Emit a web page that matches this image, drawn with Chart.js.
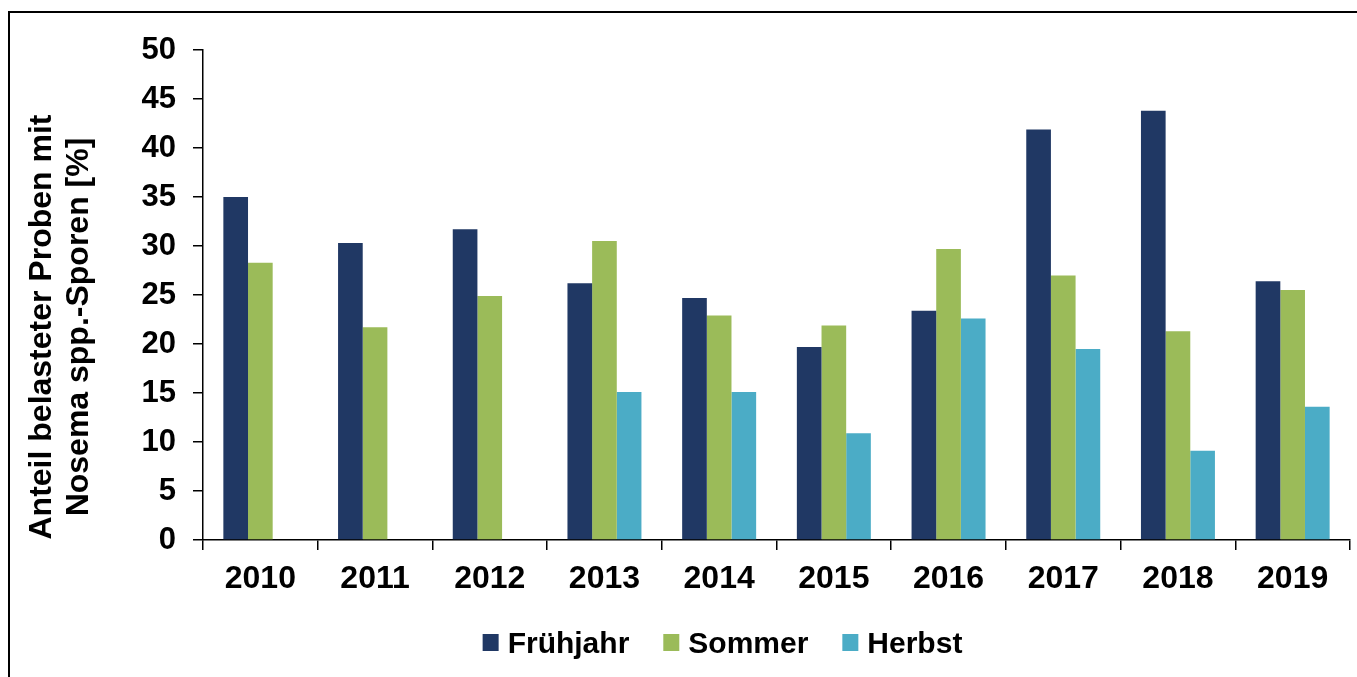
<!DOCTYPE html>
<html>
<head>
<meta charset="utf-8">
<script src="https://cdn.jsdelivr.net/npm/chart.js@4"></script>
<style>
    html, body { margin: 0; padding: 0; background: #fff; }
    .frame {
        position: absolute; left: 8px; top: 11px;
        width: 1400px; height: 700px;
        border-top: 2px solid #000; border-left: 2px solid #000;
    }
    .wrap { position: absolute; left: 0; top: 0; width: 1357px; height: 677px; }
</style>
</head>
<body>
<div class="frame"></div>
<div class="wrap"><canvas id="chartNosema" width="1357" height="677"></canvas></div>
<script>
const years = ['2010', '2011', '2012', '2013', '2014', '2015', '2016', '2017', '2018', '2019'];
const fruehjahr = [35.0, 30.3, 31.7, 26.2, 24.7, 19.7, 23.4, 41.9, 43.8, 26.4];
const sommer = [28.3, 21.7, 24.9, 30.5, 22.9, 21.9, 29.7, 27.0, 21.3, 25.5];
const herbst = [null, null, null, 15.1, 15.1, 10.9, 22.6, 19.5, 9.1, 13.6];
const yTicks = [0, 5, 10, 15, 20, 25, 30, 35, 40, 45, 50];
const titleLines = ['Anteil belasteter Proben mit', 'Nosema spp.-Sporen [%]'];

const fontFamily = '"Liberation Sans", Arial, sans-serif';

// Achsentitel (zweizeilig, gedreht)
const axisTitle = {
    id: 'axisTitle',
    afterDraw(chart) {
        const ctx = chart.ctx;
        ctx.save();
        ctx.translate(0, 327);
        ctx.rotate(-Math.PI / 2);
        ctx.font = 'bold 32px ' + fontFamily;
        ctx.fillStyle = '#000';
        ctx.textAlign = 'center';
        ctx.textBaseline = 'alphabetic';
        ctx.fillText(titleLines[0], 0, 51);
        ctx.fillText(titleLines[1], 0, 88);
        ctx.restore();
    }
};

// Legende unten, wie im Original etwas links der Mitte
const seasonLegend = {
    id: 'seasonLegend',
    afterDraw(chart) {
        const ctx = chart.ctx;
        const sets = chart.data.datasets;
        ctx.save();
        ctx.font = 'bold 30px ' + fontFamily;
        ctx.textBaseline = 'alphabetic';
        ctx.textAlign = 'left';
        const box = 16, gap = 9, spacing = 34;
        const widths = sets.map(ds => ctx.measureText(ds.label).width);
        const total = widths.reduce((a, w) => a + box + gap + w, 0) + spacing * (sets.length - 1);
        let x = 722.5 - total / 2;
        sets.forEach((ds, i) => {
            ctx.fillStyle = ds.backgroundColor;
            ctx.fillRect(x, 634, box, 17);
            ctx.fillStyle = '#000';
            ctx.fillText(ds.label, x + box + gap, 653);
            x += box + gap + widths[i] + spacing;
        });
        ctx.restore();
    }
};

const ctx = document.getElementById('chartNosema').getContext('2d');

const chart = new Chart(ctx, {
    type: 'bar',
    data: {
        labels: years,
        datasets: [
            { label: 'Frühjahr', data: fruehjahr, backgroundColor: '#203864' },
            { label: 'Sommer', data: sommer, backgroundColor: '#9bbb59' },
            { label: 'Herbst', data: herbst, backgroundColor: '#4bacc6' }
        ]
    },
    options: {
        responsive: false,
        animation: false,
        layout: { padding: { left: 0, top: 50, right: 7, bottom: 77 } },
        datasets: {
            bar: { categoryPercentage: 0.645, barPercentage: 1.0, borderWidth: 0 }
        },
        plugins: {
            legend: { display: false },
            tooltip: { enabled: false }
        },
        scales: {
            y: {
                min: 0,
                max: 50,
                afterFit: function (scale) { scale.width = 203; },
                afterBuildTicks: function (scale) {
                    scale.ticks = yTicks.map(v => ({ value: v }));
                },
                border: { display: true, color: '#000', width: 1.5 },
                grid: { drawOnChartArea: false, drawTicks: true, tickLength: 10, tickColor: '#000', lineWidth: 1.5 },
                ticks: {
                    padding: 17,
                    color: '#000',
                    font: { family: fontFamily, size: 31, weight: 'bold' }
                }
            },
            x: {
                afterFit: function (scale) { scale.height = 60; },
                border: { display: true, color: '#000', width: 1.5 },
                grid: { offset: true, drawOnChartArea: false, drawTicks: true, tickLength: 10, tickColor: '#000', lineWidth: 1.5 },
                ticks: {
                    padding: 10,
                    color: '#000',
                    font: { family: fontFamily, size: 32, weight: 'bold' }
                }
            }
        }
    },
    plugins: [axisTitle, seasonLegend]
});
</script>
</body>
</html>
